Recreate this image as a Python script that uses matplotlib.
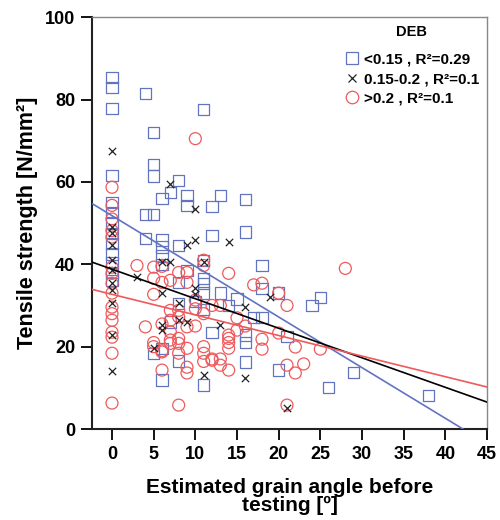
import numpy as np
import matplotlib
matplotlib.use('Agg')
import matplotlib.pyplot as plt
from matplotlib.lines import Line2D

plt.rcParams['font.family'] = ['Liberation Sans', 'DejaVu Sans']

# DEB < 0.15
blue_x = [0, 0, 0, 0, 0, 0, 0, 0, 0, 0, 0, 0, 0,
          4, 4, 4, 5, 5, 5, 5, 5, 6, 6, 6, 6, 6, 6, 6, 7, 7,
          8, 8, 8, 8, 8, 9, 9, 9, 10, 11, 11, 11, 11, 11, 11, 11,
          12, 12, 12, 13, 13, 14, 15, 16, 16, 16, 16, 16, 17,
          18, 18, 18, 20, 20, 21, 24, 25, 26, 29, 38]
blue_y = [85.3, 82.9, 77.8, 61.6, 55, 52.5, 50, 47.5, 45, 42.5, 40.5, 38, 36,
          81.5, 52, 46.3, 72, 64.2, 61.4, 52, 18.4, 56, 45.9, 44.2, 42, 40, 19.5, 11.9, 57.5, 26,
          60.4, 44.6, 35.6, 30.5, 16.5, 56.7, 54.3, 38.5, 31, 77.6, 41, 36.6, 35.4, 33, 29, 10.7,
          54, 47, 23.5, 56.7, 33, 30, 31.6, 55.7, 47.8, 22.8, 21, 16.3, 27,
          39.7, 34.2, 27, 14.3, 33, 22.4, 30, 32, 10, 13.8, 8.2]

# DEB 0.15-0.2
black_x = [0, 0, 0, 0, 0, 0, 0, 0, 0, 0, 0,
           3, 5, 6, 6, 6, 6, 7, 7, 8, 8, 9, 9, 10, 10, 10, 10,
           11, 11, 13, 14, 16, 16, 19, 21]
black_y = [67.6, 49, 47.5, 44.6, 41, 38.5, 35.4, 33.7, 30.5, 22.8, 14,
           37, 19.6, 40.5, 33, 25.2, 24, 59.6, 40.5, 26.4, 30.5, 26, 44.6, 53.3, 46, 34.2, 32.7,
           40.5, 13.1, 25.2, 45.3, 29.6, 12.4, 32, 5]

# DEB > 0.2
red_x = [0, 0, 0, 0, 0, 0, 0, 0, 0, 0, 0, 0, 0, 0, 0, 0,
         3, 4, 5, 5, 5, 5, 5, 6, 6, 6, 6, 6, 6,
         7, 7, 7, 7, 7, 7, 8, 8, 8, 8, 8, 8, 8,
         9, 9, 9, 9, 9, 9, 10, 10, 10, 10, 11, 11, 11, 11, 11, 11,
         12, 12, 12, 13, 13, 13, 14, 14, 14, 14, 14, 14,
         15, 15, 16, 17, 18, 18, 18, 20, 20, 21, 21, 21, 22, 22, 23, 25, 28]
red_y = [58.7, 54.3, 51, 48.2, 46.6, 39.3, 37.8, 35.4, 33, 29.6, 28, 26.4, 23.5, 22.3, 18.4, 6.3,
         39.7, 24.8, 39.3, 36.6, 32.7, 21, 20, 39.5, 35.6, 25.5, 19, 18.7, 14.3,
         36.1, 28.8, 26.4, 23.6, 21.6, 20.8, 38, 28.8, 27.2, 22, 18.4, 20.8, 5.8,
         38, 35.6, 24.8, 19.6, 15, 13.6, 70.5, 31.3, 29.2, 25, 39.7, 41, 28, 20, 18.4, 16.4,
         30, 17, 16.7, 30, 17, 15.5, 37.8, 22.8, 22, 21, 19.6, 14.3,
         27, 24, 25, 35, 35.4, 21.8, 19.4, 33, 23.3, 30, 15.5, 5.8, 19.9, 13.6, 15.8, 19.4, 39]

# fit lines: intercept, slope
fit_intercept = [51.8, 38.8, 32.7]
fit_slope = [-1.23, -0.717, -0.50]

labels = ['<0.15 , R\u00b2=0.29', '0.15-0.2 , R\u00b2=0.1', '>0.2 , R\u00b2=0.1']
blue = '#6273c0'
red = '#ee5a5c'
colors = [blue, 'black', red]

fig = plt.figure(figsize=(5.0, 5.2), dpi=100)
ax = fig.add_axes([0.184, 0.175, 0.79, 0.792])

ax.scatter(blue_x, blue_y, marker='s', s=66, facecolors='none', edgecolors=blue,
           linewidths=0.9, zorder=3)
ax.scatter(black_x, black_y, marker='x', s=28, color='#222222', linewidths=0.9, zorder=4)
ax.scatter(red_x, red_y, marker='o', s=74, facecolors='none', edgecolors=red,
           linewidths=0.9, zorder=3)

xlim = (-2.4, 45)
xs = np.linspace(xlim[0], xlim[1], 100)
for b, m, c in zip(fit_intercept, fit_slope, colors):
    ax.plot(xs, b + m * xs, color=c, lw=1.2, zorder=5)

ax.set_xlim(*xlim)
ax.set_ylim(0, 100)
ax.set_xticks(np.arange(0, 50, 5))
ax.set_yticks(np.arange(0, 120, 20))
ax.tick_params(direction='out', length=8, width=1.3, labelsize=13, pad=4)
for t in ax.get_xticklabels() + ax.get_yticklabels():
    t.set_fontweight('bold')
for s in ['left', 'bottom']:
    ax.spines[s].set_linewidth(1.5)
    ax.spines[s].set_color('#222222')
for s in ['top', 'right']:
    ax.spines[s].set_linewidth(1.0)
    ax.spines[s].set_color('#888888')

ax.set_ylabel('Tensile strength [N/mm\u00b2]', fontsize=15.5, fontweight='bold', labelpad=5)
ax.set_xlabel('Estimated grain angle before\ntesting [\u00ba]', fontsize=15,
              fontweight='bold', labelpad=11, linespacing=0.95)

handles = [
    Line2D([], [], marker='s', ls='none', mfc='none', mec=blue, ms=8.5, mew=0.9),
    Line2D([], [], marker='x', ls='none', color='#222222', ms=6, mew=0.9),
    Line2D([], [], marker='o', ls='none', mfc='none', mec=red, ms=9, mew=0.9),
]
leg = ax.legend(handles, labels, title='DEB', loc='upper right', frameon=False,
                prop={'size': 11, 'weight': 'bold'}, handletextpad=0.3,
                handlelength=1.0, labelspacing=0.35, borderaxespad=0.1)
leg.get_title().set_fontweight('bold')
leg.get_title().set_fontsize(10.5)
leg._legend_box.sep = 10

fig.savefig('out.png', dpi=100)
